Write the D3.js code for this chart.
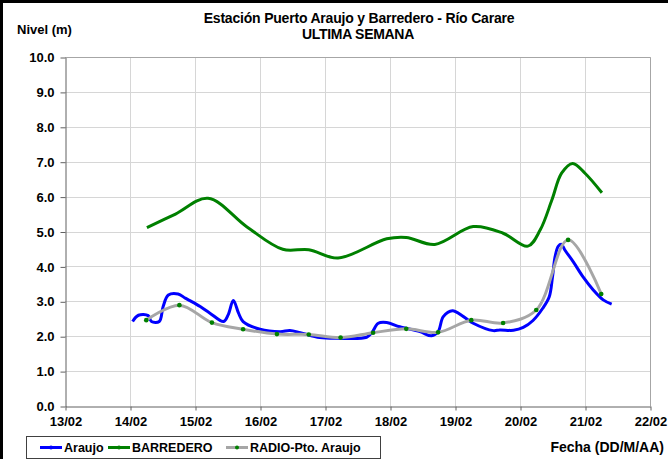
<!DOCTYPE html>
<html>
<head>
<meta charset="utf-8">
<script src="https://cdn.jsdelivr.net/npm/d3@7"></script>
<style>
  body { margin: 0; background: #fff; }
  svg { display: block; font-family: "Liberation Sans", Arial, sans-serif; }
</style>
</head>
<body>
<svg id="chart" width="668" height="459"></svg>
<script>
"use strict"

// dias de febrero (fraccion = hora) y niveles en metros
const araujoDay = [14.04, 14.13, 14.28, 14.33, 14.45, 14.51, 14.59, 14.74, 14.85, 14.92, 15.08, 15.23, 15.44, 15.51, 15.59, 15.67, 15.74, 16.0, 16.31, 16.46, 16.62, 16.92, 17.2, 17.64, 17.72, 17.82, 17.95, 18.15, 18.46, 18.64, 18.74, 18.82, 18.96, 19.13, 19.28, 19.59, 19.69, 19.9, 20.05, 20.2, 20.35, 20.45, 20.5, 20.54, 20.59, 20.64, 20.69, 20.82, 20.97, 21.13, 21.28, 21.41]
const araujoLevel = [2.42, 2.6, 2.59, 2.42, 2.42, 2.85, 3.18, 3.21, 3.09, 3.02, 2.85, 2.66, 2.42, 2.61, 3.02, 2.66, 2.42, 2.2, 2.13, 2.16, 2.1, 1.96, 1.94, 1.97, 2.1, 2.37, 2.39, 2.27, 2.13, 2.01, 2.13, 2.56, 2.73, 2.56, 2.37, 2.16, 2.18, 2.17, 2.25, 2.45, 2.8, 3.13, 3.7, 4.28, 4.58, 4.63, 4.47, 4.13, 3.7, 3.32, 3.04, 2.92]

const barrederoDay = [14.26, 14.7, 15.2, 15.8, 16.35, 16.75, 17.2, 17.95, 18.25, 18.69, 19.28, 19.74, 20.12, 20.31, 20.49, 20.64, 20.81, 21.0, 21.26]
const barrederoLevel = [5.11, 5.5, 5.95, 5.13, 4.49, 4.48, 4.24, 4.79, 4.83, 4.63, 5.14, 4.95, 4.58, 5.04, 5.9, 6.67, 6.95, 6.67, 6.11]

const radioDay = [14.25, 14.76, 15.26, 15.74, 16.26, 16.75, 17.24, 17.74, 18.25, 18.74, 19.25, 19.74, 20.25, 20.74, 21.25]
const radioLevel = [2.46, 2.89, 2.39, 2.2, 2.06, 2.05, 1.96, 2.10, 2.21, 2.11, 2.46, 2.38, 2.75, 4.76, 3.21]

const xTickDays = [13, 14, 15, 16, 17, 18, 19, 20, 21, 22]
const xTickLabels = ["13/02", "14/02", "15/02", "16/02", "17/02", "18/02", "19/02", "20/02", "21/02", "22/02"]
const yTicks = [0, 1, 2, 3, 4, 5, 6, 7, 8, 9, 10]

const seriesNames = ["Araujo", "BARREDERO", "RADIO-Pto. Araujo"]

const svg = d3.select("#chart")
const plot = {left: 65, right: 650, top: 57, bottom: 406}

const x = d3.scaleLinear().domain([13, 22]).range([plot.left, plot.right])
const y = d3.scaleLinear().domain([0, 10]).range([plot.bottom, plot.top])

// marco exterior
svg.append("line").attr("x1", 0).attr("x2", 668).attr("y1", 1.5).attr("y2", 1.5)
    .attr("stroke", "#000").attr("stroke-width", 3)
svg.append("line").attr("x1", 1.5).attr("x2", 1.5).attr("y1", 0).attr("y2", 459)
    .attr("stroke", "#000").attr("stroke-width", 3)

// rejilla
svg.append("g").selectAll("line").data(yTicks.slice(1)).join("line")
    .attr("x1", plot.left).attr("x2", plot.right)
    .attr("y1", d => Math.round(y(d)) + 0.5).attr("y2", d => Math.round(y(d)) + 0.5)
    .attr("stroke", "#d6d6d6")
svg.append("g").selectAll("line").data(xTickDays.slice(1)).join("line")
    .attr("x1", d => Math.round(x(d)) + 0.5).attr("x2", d => Math.round(x(d)) + 0.5)
    .attr("y1", plot.top).attr("y2", plot.bottom)
    .attr("stroke", "#d6d6d6")

// borde superior y derecho del area
svg.append("path")
    .attr("d", `M${plot.left},${plot.top + 0.5}H${plot.right + 0.5}V${plot.bottom}`)
    .attr("fill", "none").attr("stroke", "#a6a6a6")

// ejes
const yAxis = svg.append("g")
    .attr("transform", `translate(${plot.left + 0.5},0.5)`)
    .call(d3.axisLeft(y).tickValues(yTicks).tickFormat(d3.format(".1f")).tickSizeInner(5).tickSizeOuter(0).tickPadding(6))
yAxis.select(".domain").attr("stroke", "#606060")
yAxis.selectAll(".tick line").attr("stroke", "#606060")
yAxis.selectAll("text").attr("font-size", 13).attr("font-weight", "bold").attr("fill", "#000")
    .attr("font-family", "Liberation Sans, Arial, sans-serif")

const xAxis = svg.append("g")
    .attr("transform", `translate(0.5,${plot.bottom + 0.5})`)
    .call(d3.axisBottom(x).tickValues(xTickDays).tickFormat((d, i) => xTickLabels[i]).tickSizeInner(4).tickSizeOuter(0).tickPadding(6))
xAxis.select(".domain").attr("stroke", "#606060")
xAxis.selectAll(".tick line").attr("stroke", "#606060")
xAxis.selectAll("text").attr("font-size", 13).attr("font-weight", "bold").attr("fill", "#000")
    .attr("font-family", "Liberation Sans, Arial, sans-serif")

// series
const line = d3.line().x(d => x(d[0])).y(d => y(d[1])).curve(d3.curveCatmullRom.alpha(0.5))

const barredero = barrederoDay.map((d, i) => [d, barrederoLevel[i]])
const araujo = araujoDay.map((d, i) => [d, araujoLevel[i]])
const radio = radioDay.map((d, i) => [d, radioLevel[i]])

svg.append("path").datum(barredero).attr("d", line)
    .attr("fill", "none").attr("stroke", "#008000").attr("stroke-width", 3).attr("stroke-linejoin", "round")
svg.append("path").datum(araujo).attr("d", line)
    .attr("fill", "none").attr("stroke", "#0000ff").attr("stroke-width", 3).attr("stroke-linejoin", "round")
svg.append("path").datum(radio).attr("d", line)
    .attr("fill", "none").attr("stroke", "#a6a6a6").attr("stroke-width", 3).attr("stroke-linejoin", "round")
svg.append("g").selectAll("circle").data(radio).join("circle")
    .attr("cx", d => x(d[0])).attr("cy", d => y(d[1])).attr("r", 2.3)
    .attr("fill", "#008000")

// titulos
svg.append("text").attr("x", 359).attr("y", 23).attr("text-anchor", "middle")
    .attr("font-size", 14).attr("font-weight", "bold").attr("letter-spacing", -0.2)
    .text("Estación Puerto Araujo y Barredero - Río Carare")
svg.append("text").attr("x", 358).attr("y", 39).attr("text-anchor", "middle")
    .attr("font-size", 14).attr("font-weight", "bold").attr("letter-spacing", -0.3)
    .text("ULTIMA SEMANA")
svg.append("text").attr("x", 17).attr("y", 34)
    .attr("font-size", 13).attr("font-weight", "bold")
    .text("Nivel (m)")
svg.append("text").attr("x", 664).attr("y", 452).attr("text-anchor", "end")
    .attr("font-size", 14).attr("font-weight", "bold")
    .text("Fecha (DD/M/AA)")

// leyenda
const legend = svg.append("g")
legend.append("rect").attr("x", 26.5).attr("y", 436.5).attr("width", 354).attr("height", 22)
    .attr("fill", "#fff").attr("stroke", "#404040")
const legendColor = ["#0000ff", "#008000", "#a6a6a6"]
const legendDot = ["#0000ff", "#008000", "#008000"]
const legendX = [40, 108, 226]
seriesNames.forEach((name, i) => {
    legend.append("line").attr("x1", legendX[i]).attr("x2", legendX[i] + 22)
        .attr("y1", 447.5).attr("y2", 447.5)
        .attr("stroke", legendColor[i]).attr("stroke-width", 3)
    legend.append("circle").attr("cx", legendX[i] + 11).attr("cy", 447.5).attr("r", 2)
        .attr("fill", legendDot[i])
    legend.append("text").attr("x", legendX[i] + 24).attr("y", 452)
        .attr("font-size", 12.5).attr("font-weight", 600)
        .text(name)
})
</script>
</body>
</html>
